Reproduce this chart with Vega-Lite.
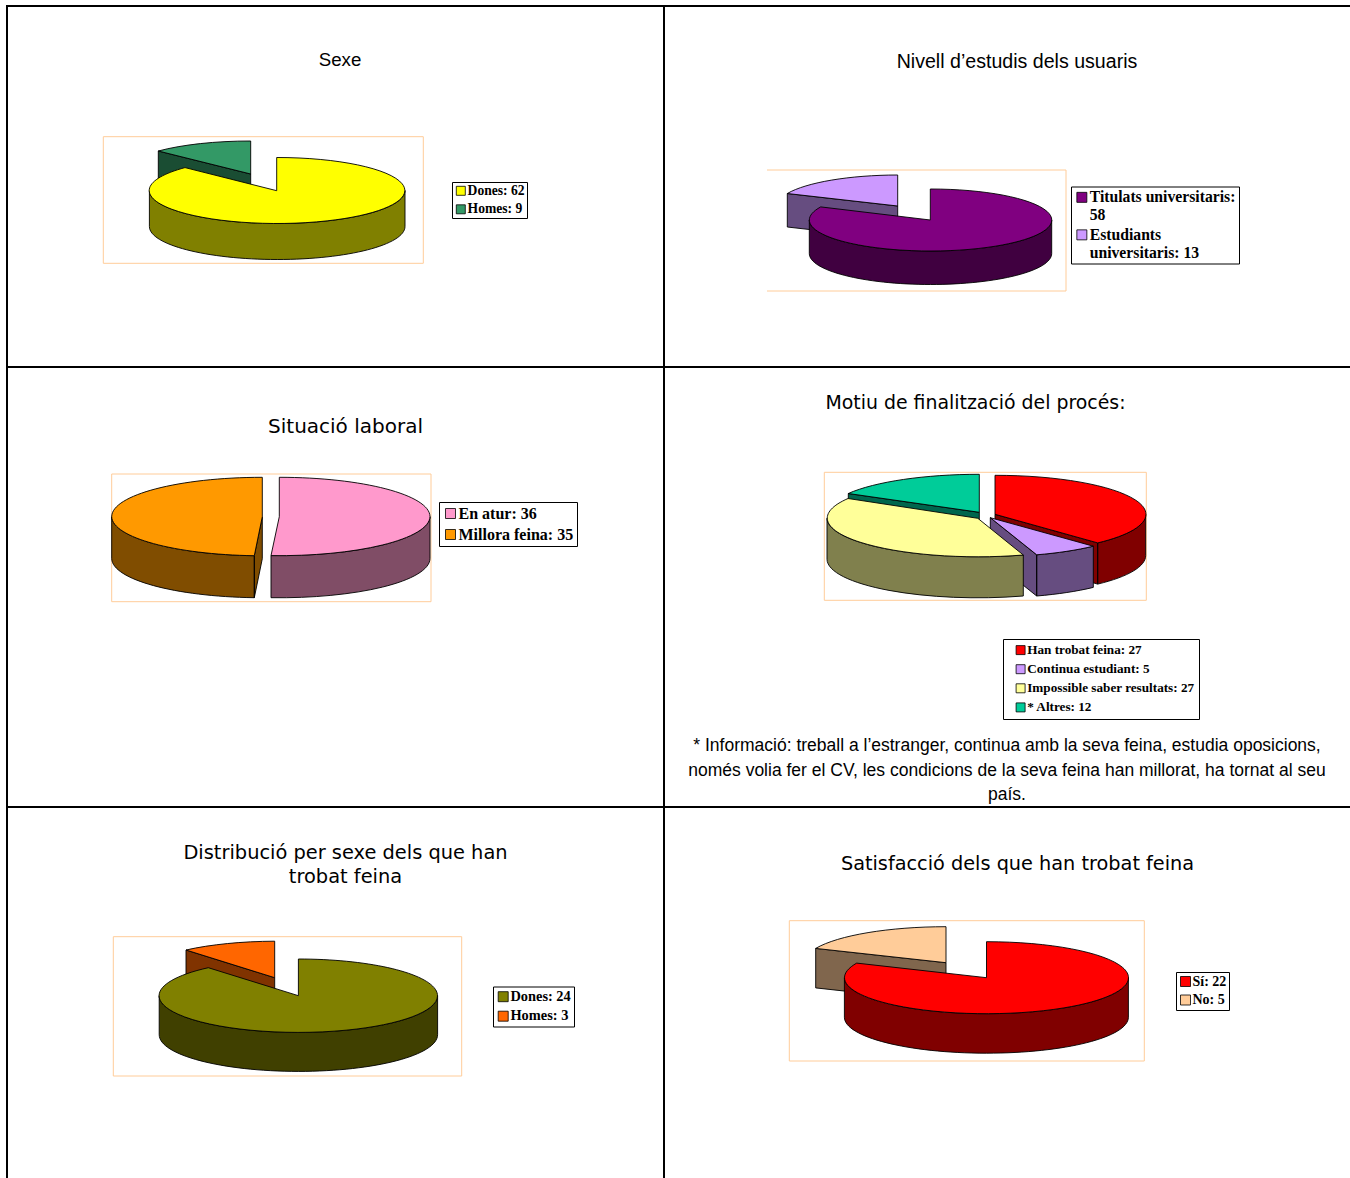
{
"$schema":"https://vega.github.io/schema/vega-lite/v6.json",
"background":"white",
"padding":{"left":3,"top":2,"right":0,"bottom":0},
"autosize":{"type":"pad"},
"config":{"view":{"stroke":null},"legend":{"orient":"none","title":null,"fillColor":"white","strokeColor":"black","symbolType":"square","labelFont":"Liberation Serif","labelFontWeight":"bold","labelColor":"black","symbolStrokeColor":"black","symbolStrokeWidth":0.8,"labelOffset":0,"labelLimit":400}},
"spacing":0,
"bounds":"flush",
"align":"each",
"columns":2,
"concat":[
{"width":657,"height":361,
"data":{"values":[{"categoria":"Dones","valor":62,"etiqueta":"Dones: 62"},{"categoria":"Homes","valor":9,"etiqueta":"Homes: 9"}]},
"resolve":{"scale":{"color":"independent","shape":"independent"}},
"layer":[
{"data":{"values":[{"element":"vora"}]},"mark":{"type":"point","shape":"M-328.5 180.5V-180.5H328.5","size":4,"filled":false,"stroke":"black","strokeWidth":2,"opacity":1}},
{"data":{"values":[{"element":"marc"}]},"mark":{"type":"point","shape":"M-232.2 -49.8H87.8V76.8H-232.2Z","size":4,"filled":false,"stroke":"#FFCC99","strokeWidth":1,"opacity":1}},
{"mark":{"type":"point","filled":true,"size":4,"opacity":1,"stroke":"black","strokeWidth":0.9},
"encoding":{"color":{"field":"categoria","type":"nominal","scale":{"domain":["Homes","Dones"],"range":["#1A4D33","#808000"]},"legend":null},
"shape":{"field":"categoria","type":"nominal","scale":{"domain":["Homes","Dones"],"range":["M-177.2 -35.5L-84.8 -12.5L-84.8 23.5L-177.2 0.5Z","M-186.1 4L-186.1 40A127.8 33 0 0 0 69.5 40L69.5 4A127.8 33 0 0 1 -186.1 4Z"]},"legend":null},
"order":{"field":"valor","type":"quantitative"}}},
{"mark":{"type":"point","filled":true,"size":4,"opacity":1,"stroke":"black","strokeWidth":0.9},
"encoding":{"color":{"field":"etiqueta","type":"nominal","scale":{"domain":["Dones: 62","Homes: 9"],"range":["#FFFF00","#339966"]},"legend":{"legendX":445,"legendY":176,"labelFontSize":13.6,"symbolSize":81,"padding":2,"rowPadding":3.5}},
"shape":{"field":"categoria","type":"nominal","scale":{"domain":["Dones","Homes"],"range":["M-58.8 4.2L-58.8 -29A127.8 33 0 1 1 -150.5 -18.9Z","M-84.8 -12.5L-177.2 -35.5A127.8 33 0 0 1 -84.8 -45.5Z"]},"legend":null}}},
{"data":{"values":[{"text":"Sexe"}]},"mark":{"type":"text","dx":4.5,"dy":-126.5,"font":"Liberation Sans","fontSize":18.7,"baseline":"middle","align":"center"},"encoding":{"text":{"field":"text","type":"nominal"}}}
]},
{"width":686,"height":361,
"data":{"values":[{"categoria":"Titulats universitaris","valor":58,"etiqueta":"Titulats universitaris:|58"},{"categoria":"Estudiants universitaris","valor":13,"etiqueta":"Estudiants|universitaris: 13"}]},
"resolve":{"scale":{"color":"independent","shape":"independent"}},
"layer":[
{"data":{"values":[{"element":"vora"}]},"mark":{"type":"point","shape":"M-343 180.5V-180.5H343","size":4,"filled":false,"stroke":"black","strokeWidth":2,"opacity":1}},
{"data":{"values":[{"element":"marc"}]},"mark":{"type":"point","shape":"M-240 -16.5H59V104.5H-240","size":4,"filled":false,"stroke":"#FFCC99","strokeWidth":1,"opacity":1}},
{"mark":{"type":"point","filled":true,"size":4,"opacity":1,"stroke":"black","strokeWidth":0.9},
"encoding":{"color":{"field":"categoria","type":"nominal","scale":{"domain":["Estudiants universitaris","Titulats universitaris"],"range":["#664D80","#400040"]},"legend":null},
"shape":{"field":"categoria","type":"nominal","scale":{"domain":["Estudiants universitaris","Titulats universitaris"],"range":["M-219.7 7L-109.3 19.5L-109.3 53L-219.7 40.5Z","M-197.7 33.5L-197.7 67A121.2 31 0 0 0 44.7 67L44.7 33.5A121.2 31 0 0 1 -197.7 33.5Z"]},"legend":null},
"order":{"field":"valor","type":"quantitative"}}},
{"mark":{"type":"point","filled":true,"size":4,"opacity":1,"stroke":"black","strokeWidth":0.9},
"encoding":{"color":{"field":"etiqueta","type":"nominal","scale":{"domain":["Titulats universitaris:|58","Estudiants|universitaris: 13"],"range":["#800080","#CC99FF"]},"legend":{"legendX":407,"legendY":180.5,"labelFontSize":15.7,"symbolSize":100,"padding":3,"rowPadding":2.5,"labelExpr":"split(datum.label,'|')"}},
"shape":{"field":"categoria","type":"nominal","scale":{"domain":["Titulats universitaris","Estudiants universitaris"],"range":["M-76.7 33.5L-76.7 2.5A121.2 31 0 1 1 -186.3 20.4Z","M-109.3 19.5L-219.7 7A121.2 31 0 0 1 -109.3 -11.5Z"]},"legend":null}}},
{"data":{"values":[{"text":"Nivell d’estudis dels usuaris"}]},"mark":{"type":"text","dx":10,"dy":-124.5,"font":"Liberation Sans","fontSize":19.6,"baseline":"middle","align":"center"},"encoding":{"text":{"field":"text","type":"nominal"}}}
]},
{"width":657,"height":440,
"data":{"values":[{"categoria":"En atur","valor":36,"etiqueta":"En atur: 36"},{"categoria":"Millora feina","valor":35,"etiqueta":"Millora feina: 35"}]},
"resolve":{"scale":{"color":"independent","shape":"independent"}},
"layer":[
{"data":{"values":[{"element":"vora"}]},"mark":{"type":"point","shape":"M-328.5 220V-220H328.5","size":4,"filled":false,"stroke":"black","strokeWidth":2,"opacity":1}},
{"data":{"values":[{"element":"marc"}]},"mark":{"type":"point","shape":"M-223.8 -113H95.5V14.7H-223.8Z","size":4,"filled":false,"stroke":"#FFCC99","strokeWidth":1,"opacity":1}},
{"mark":{"type":"point","filled":true,"size":4,"opacity":1,"stroke":"black","strokeWidth":0.9},
"encoding":{"color":{"field":"categoria","type":"nominal","scale":{"domain":["En atur","Millora feina"],"range":["#804D66","#804D00"]},"legend":null},
"shape":{"field":"categoria","type":"nominal","scale":{"domain":["En atur","Millora feina"],"range":["M94.5 -70.3L94.5 -28.3A150.7 39.4 0 0 1 -64.5 10.7L-64.5 -31.4A150.7 39.4 0 0 0 94.5 -70.3Z","M-223.8 -70.3L-223.8 -28.3A150.6 39.4 0 0 0 -81.2 10.7L-81.2 -31.3A150.6 39.4 0 0 1 -223.8 -70.3ZM-81.2 -31.3L-73.2 -70.3L-73.2 -28.3L-81.2 10.7Z"]},"legend":null}}},
{"mark":{"type":"point","filled":true,"size":4,"opacity":1,"stroke":"black","strokeWidth":0.9},
"encoding":{"color":{"field":"etiqueta","type":"nominal","scale":{"domain":["En atur: 36","Millora feina: 35"],"range":["#FF99CC","#FF9900"]},"legend":{"legendX":432,"legendY":135,"labelFontSize":16,"symbolSize":100,"padding":3.5,"rowPadding":5}},
"shape":{"field":"categoria","type":"nominal","scale":{"domain":["En atur","Millora feina"],"range":["M-56.2 -70.3L-56.2 -109.7A150.7 39.4 0 0 1 94.5 -70.3A150.7 39.4 0 0 1 -64.5 -31.4Z","M-73.2 -70.3L-81.2 -31.3A150.6 39.4 0 0 1 -223.8 -70.3A150.6 39.4 0 0 1 -73.2 -109.7Z"]},"legend":null}}},
{"data":{"values":[{"text":"Situació laboral"}]},"mark":{"type":"text","dx":10,"dy":-160,"font":"DejaVu Sans","fontSize":20,"baseline":"middle","align":"center"},"encoding":{"text":{"field":"text","type":"nominal"}}}
]},
{"width":686,"height":440,
"data":{"values":[{"categoria":"Han trobat feina","valor":27,"etiqueta":"Han trobat feina: 27"},{"categoria":"Continua estudiant","valor":5,"etiqueta":"Continua estudiant: 5"},{"categoria":"Altres","valor":12,"etiqueta":"* Altres: 12"},{"categoria":"Impossible saber resultats","valor":27,"etiqueta":"Impossible saber resultats: 27"}]},
"resolve":{"scale":{"color":"independent","shape":"independent"}},
"layer":[
{"data":{"values":[{"element":"vora"}]},"mark":{"type":"point","shape":"M-343 220V-220H343","size":4,"filled":false,"stroke":"black","strokeWidth":2,"opacity":1}},
{"data":{"values":[{"element":"marc"}]},"mark":{"type":"point","shape":"M-182.7 -114.7H139.3V13.3H-182.7Z","size":4,"filled":false,"stroke":"#FFCC99","strokeWidth":1,"opacity":1}},
{"mark":{"type":"point","filled":true,"size":4,"opacity":1,"stroke":"black","strokeWidth":0.9},
"encoding":{"color":{"field":"categoria","type":"nominal","scale":{"domain":["Han trobat feina","Continua estudiant","Altres","Impossible saber resultats"],"range":["#800000","#664D80","#00664D","#80804D"]},"legend":null},
"shape":{"field":"categoria","type":"nominal","scale":{"domain":["Han trobat feina","Continua estudiant","Altres","Impossible saber resultats"],"range":["M138.7 -72.7L138.7 -31.5A150.7 39 0 0 1 90.7 -2.9L90.7 -44.1A150.7 39 0 0 0 138.7 -72.7ZM-12 -72.7L90.7 -44.1L90.7 -2.9L-12 -31.5Z","M29.7 -32.2L29.7 9A150.7 39 0 0 0 86.3 0.4L86.3 -40.8A150.7 39 0 0 1 29.7 -32.2ZM-16.7 -69.3L29.7 -32.2L29.7 9L-16.7 -28.1Z","M-158.7 -93.5L-27.7 -74.7L-27.7 -34L-158.7 -52.8Z","M-180 -68.7L-180 -27.7A150.8 38.7 0 0 0 16.3 9L16.3 -32A150.8 38.7 0 0 1 -180 -68.7Z"]},"legend":null}}},
{"mark":{"type":"point","filled":true,"size":4,"opacity":1,"stroke":"black","strokeWidth":0.9},
"encoding":{"color":{"field":"etiqueta","type":"nominal","scale":{"domain":["Han trobat feina: 27","Continua estudiant: 5","Impossible saber resultats: 27","* Altres: 12"],"range":["#FF0000","#CC99FF","#FFFF99","#00CC99"]},"legend":{"legendX":339,"legendY":272,"labelFontSize":13.2,"symbolSize":81,"padding":4.5,"rowPadding":5.1,"symbolOffset":6.5,"labelExpr":"datum.label+'\u2002'"}},
"shape":{"field":"categoria","type":"nominal","scale":{"domain":["Han trobat feina","Continua estudiant","Impossible saber resultats","Altres"],"range":["M-12 -72.7L-12 -111.7A150.7 39 0 0 1 90.7 -44.1Z","M-16.7 -69.3L86.3 -40.8A150.7 39 0 0 1 29.7 -32.2Z","M-29.2 -68.7L16.3 -32A150.8 38.7 0 0 1 -159 -88.5Z","M-27.7 -74.7L-158.7 -93.5A150.7 38 0 0 1 -27.7 -112.7Z"]},"legend":null}}},
{"data":{"values":[{"text":"Motiu de finalització del procés:"}]},"mark":{"type":"text","dx":-31.5,"dy":-184.5,"font":"DejaVu Sans","fontSize":18.9,"baseline":"middle","align":"center"},"encoding":{"text":{"field":"text","type":"nominal"}}},
{"data":{"values":[{"text":"* Informació: treball a l’estranger, continua amb la seva feina, estudia oposicions,"}]},"mark":{"type":"text","dx":0,"dy":159,"font":"Liberation Sans","fontSize":17.5,"baseline":"middle","align":"center"},"encoding":{"text":{"field":"text","type":"nominal"}}},
{"data":{"values":[{"text":"només volia fer el CV, les condicions de la seva feina han millorat,  ha tornat al seu"}]},"mark":{"type":"text","dx":0,"dy":184,"font":"Liberation Sans","fontSize":17.5,"baseline":"middle","align":"center"},"encoding":{"text":{"field":"text","type":"nominal"}}},
{"data":{"values":[{"text":"país."}]},"mark":{"type":"text","dx":0,"dy":208,"font":"Liberation Sans","fontSize":17.5,"baseline":"middle","align":"center"},"encoding":{"text":{"field":"text","type":"nominal"}}}
]},
{"width":657,"height":371,
"data":{"values":[{"categoria":"Dones","valor":24,"etiqueta":"Dones: 24"},{"categoria":"Homes","valor":3,"etiqueta":"Homes: 3"}]},
"resolve":{"scale":{"color":"independent","shape":"independent"}},
"layer":[
{"data":{"values":[{"element":"vora"}]},"mark":{"type":"point","shape":"M-328.5 185.5V-185.5H328.5","size":4,"filled":false,"stroke":"black","strokeWidth":2,"opacity":1}},
{"data":{"values":[{"element":"marc"}]},"mark":{"type":"point","shape":"M-222.2 -55.8H126.2V83.5H-222.2Z","size":4,"filled":false,"stroke":"#FFCC99","strokeWidth":1,"opacity":1}},
{"mark":{"type":"point","filled":true,"size":4,"opacity":1,"stroke":"black","strokeWidth":0.9},
"encoding":{"color":{"field":"categoria","type":"nominal","scale":{"domain":["Homes","Dones"],"range":["#803300","#404000"]},"legend":null},
"shape":{"field":"categoria","type":"nominal","scale":{"domain":["Homes","Dones"],"range":["M-149.5 -42.5L-60.8 -14.8L-60.8 24.2L-149.5 -3.5Z","M-176.3 3.2L-176.3 42.2A139.2 36.7 0 0 0 102.1 42.2L102.1 3.2A139.2 36.7 0 0 1 -176.3 3.2Z"]},"legend":null},
"order":{"field":"valor","type":"quantitative"}}},
{"mark":{"type":"point","filled":true,"size":4,"opacity":1,"stroke":"black","strokeWidth":0.9},
"encoding":{"color":{"field":"etiqueta","type":"nominal","scale":{"domain":["Dones: 24","Homes: 3"],"range":["#808000","#FF6600"]},"legend":{"legendX":486,"legendY":179.5,"labelFontSize":14.4,"symbolSize":100,"padding":3,"rowPadding":4.5}},
"shape":{"field":"categoria","type":"nominal","scale":{"domain":["Dones","Homes"],"range":["M-37.1 3.2L-37.1 -33.5A139.2 36.7 0 1 1 -127.2 -24.8Z","M-60.8 -14.8L-149.5 -42.5A139.2 36.5 0 0 1 -60.8 -51.3Z"]},"legend":null}}},
{"data":{"values":[{"text":"Distribució per sexe dels que han"}]},"mark":{"type":"text","dx":10,"dy":-139.5,"font":"DejaVu Sans","fontSize":19.4,"baseline":"middle","align":"center"},"encoding":{"text":{"field":"text","type":"nominal"}}},
{"data":{"values":[{"text":"trobat feina"}]},"mark":{"type":"text","dx":10,"dy":-115.5,"font":"DejaVu Sans","fontSize":19.4,"baseline":"middle","align":"center"},"encoding":{"text":{"field":"text","type":"nominal"}}}
]},
{"width":686,"height":371,
"data":{"values":[{"categoria":"Sí","valor":22,"etiqueta":"Sí: 22"},{"categoria":"No","valor":5,"etiqueta":"No: 5"}]},
"resolve":{"scale":{"color":"independent","shape":"independent"}},
"layer":[
{"data":{"values":[{"element":"vora"}]},"mark":{"type":"point","shape":"M-343 185.5V-185.5H343","size":4,"filled":false,"stroke":"black","strokeWidth":2,"opacity":1}},
{"data":{"values":[{"element":"marc"}]},"mark":{"type":"point","shape":"M-217.7 -71.8H137.3V68.5H-217.7Z","size":4,"filled":false,"stroke":"#FFCC99","strokeWidth":1,"opacity":1}},
{"mark":{"type":"point","filled":true,"size":4,"opacity":1,"stroke":"black","strokeWidth":0.9},
"encoding":{"color":{"field":"categoria","type":"nominal","scale":{"domain":["No","Sí"],"range":["#80664D","#800000"]},"legend":null},
"shape":{"field":"categoria","type":"nominal","scale":{"domain":["No","Sí"],"range":["M-191.3 -44.1L-61 -29.8L-61 9.7L-191.3 -4.6Z","M-162.6 -14.8L-162.6 24.7A142 36 0 0 0 121.4 24.7L121.4 -14.8A142 36 0 0 1 -162.6 -14.8Z"]},"legend":null},
"order":{"field":"valor","type":"quantitative"}}},
{"mark":{"type":"point","filled":true,"size":4,"opacity":1,"stroke":"black","strokeWidth":0.9},
"encoding":{"color":{"field":"etiqueta","type":"nominal","scale":{"domain":["Sí: 22","No: 5"],"range":["#FF0000","#FFCC99"]},"legend":{"legendX":512,"legendY":165,"labelFontSize":14,"symbolSize":100,"padding":2.5,"rowPadding":4.5}},
"shape":{"field":"categoria","type":"nominal","scale":{"domain":["Sí","No"],"range":["M-20.5 -14.8L-20.5 -50.8A142 36 0 1 1 -150.3 -29.4Z","M-61 -29.8L-191.3 -44.1A142 36 0 0 1 -61 -65.8Z"]},"legend":null}}},
{"data":{"values":[{"text":"Satisfacció dels que han trobat feina"}]},"mark":{"type":"text","dx":10.5,"dy":-129,"font":"DejaVu Sans","fontSize":19.3,"baseline":"middle","align":"center"},"encoding":{"text":{"field":"text","type":"nominal"}}}
]}
]}
